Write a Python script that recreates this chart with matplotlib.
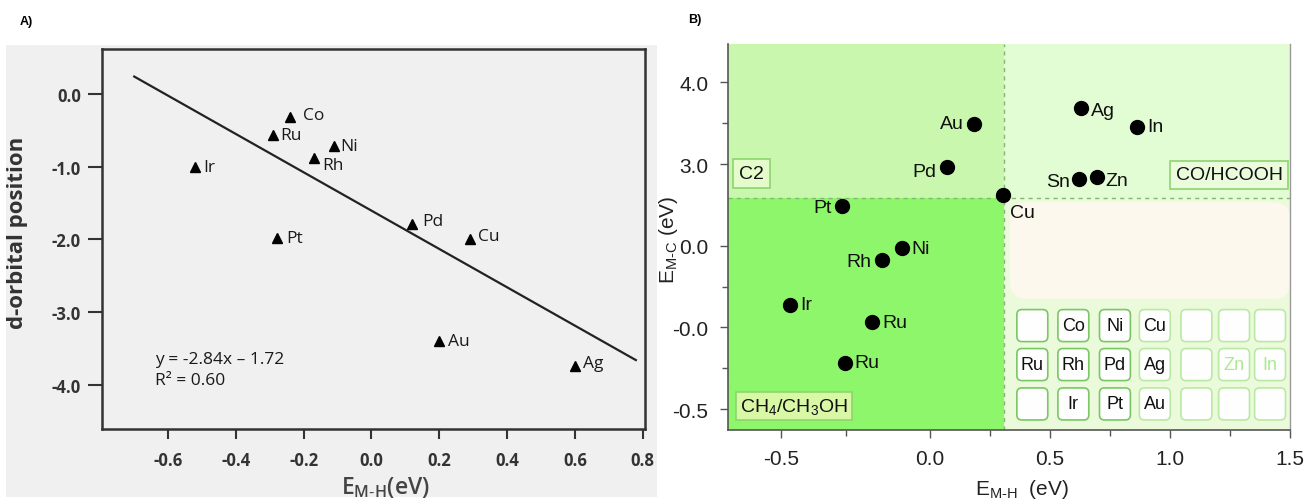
import matplotlib
matplotlib.use('Agg')
import matplotlib.pyplot as plt
from matplotlib.patches import FancyBboxPatch, Rectangle
from matplotlib.mathtext import MathTextParser

plt.rcParams['mathtext.fontset'] = 'custom'
plt.rcParams['mathtext.rm'] = 'Liberation Sans'
plt.rcParams['mathtext.it'] = 'Liberation Sans'
plt.rcParams['mathtext.bf'] = 'Liberation Sans:bold'

# ---------------- Panel A data ----------------
a_elements = ['Co', 'Ru', 'Ni', 'Rh', 'Ir', 'Pd', 'Pt', 'Cu', 'Au', 'Ag']
a_emh = [-0.24, -0.29, -0.11, -0.17, -0.52, 0.12, -0.28, 0.29, 0.20, 0.60]
a_dorb = [-0.31, -0.56, -0.71, -0.88, -1.00, -1.79, -1.98, -1.99, -3.40, -3.74]
a_fit_x = [-0.70, 0.78]
a_fit_y = [0.24, -3.66]
a_xticks = [-0.6, -0.4, -0.2, 0.0, 0.2, 0.4, 0.6, 0.8]
a_yticks = [0.0, -1.0, -2.0, -3.0, -4.0]
a_equation = 'y = -2.84x \u2013 1.72'
a_r2 = 'R\u00b2 = 0.60'

# ---------------- Panel B data ----------------
b_elements = ['Au', 'Pd', 'Ag', 'In', 'Sn', 'Zn', 'Cu', 'Pt', 'Ni', 'Rh', 'Ir', 'Ru', 'Ru']
b_emh = [0.183, 0.070, 0.628, 0.863, 0.620, 0.695, 0.305, -0.368, -0.117, -0.200, -0.583, -0.240, -0.355]
b_emc = [3.490, 2.960, 3.685, 3.457, 2.816, 2.837, 2.621, 2.490, 1.967, 1.825, 1.277, 1.062, 0.568]
b_xticks = [-0.62, 0.0, 0.5, 1.0, 1.5]
b_xticklabels = ['-0.5', '0.0', '0.5', '1.0', '1.5']
b_xminor = [-0.35, 0.25, 0.75, 1.25]
b_yticks = [4.0, 3.0, 2.0, 1.0, 0.0]
b_yticklabels = ['4.0', '3.0', '0.0', '-0.0', '-0.5']
b_yminor = [3.5, 1.5, 0.5]
b_x_split = 0.308
b_y_split = 2.584
ptable = [['', 'Co', 'Ni', 'Cu', '', '', ''],
          ['Ru', 'Rh', 'Pd', 'Ag', '', 'Zn', 'In'],
          ['', 'Ir', 'Pt', 'Au', '', '', '']]

# label offsets (points) and alignment -- layout only
a_offsets = {'Co': (9, 1), 'Ru': (5, 0), 'Ni': (4, 0), 'Rh': (6, -5), 'Ir': (6, 0),
             'Pd': (7, 2), 'Pt': (7, 0), 'Cu': (6, 2), 'Au': (6, 0), 'Ag': (6, 2)}
b_offsets = [(-7, 0, 'right'), (-7.5, -3, 'right'), (7, -2, 'left'), (7.5, 0, 'left'),
             (-6.5, -1.5, 'right'), (6, -2, 'left'), (5, -12.5, 'left'), (-7.5, -1, 'right'),
             (6.5, 0, 'left'), (-7.5, -1, 'right'), (7.5, 0, 'left'), (7, 0, 'left'), (6.5, 0, 'left')]


def safe_math(s, fallback):
    try:
        MathTextParser('path').parse(s)
        return s
    except Exception:
        return fallback


W, H = 1306, 502
fig = plt.figure(figsize=(W / 100, H / 100), dpi=100)
fig.patch.set_facecolor('white')
fig.add_artist(Rectangle((6 / W, 4 / H), 651 / W, 452 / H, transform=fig.transFigure,
                         facecolor='#f0f0f0', edgecolor='none', zorder=0))

# ======================= Panel A =======================
afont = 'Open Sans'
dark = '#333333'
axA = fig.add_axes([101.7 / W, 1 - 430 / H, (645 - 101.7) / W, (430 - 50) / H])
axA.set_facecolor('#f0f0f0')
axA.set_xlim(-0.796, 0.807)
axA.set_ylim(-4.608, 0.619)
for sp in axA.spines.values():
    sp.set_linewidth(1.8)
    sp.set_color(dark)
axA.set_xticks(a_xticks)
axA.set_xticklabels(['%.1f' % v for v in a_xticks])
axA.set_yticks(a_yticks)
axA.set_yticklabels(['%.1f' % v for v in a_yticks])
axA.tick_params(axis='x', direction='out', length=7, width=1.5, color=dark, pad=9)
axA.tick_params(axis='y', direction='out', length=10, width=1.5, color=dark, pad=5)
for lab in axA.get_xticklabels() + axA.get_yticklabels():
    lab.set_fontfamily(afont)
    lab.set_fontweight('bold')
    lab.set_fontsize(12)
    lab.set_color(dark)

axA.plot(a_fit_x, a_fit_y, color='#222222', lw=1.6, zorder=2)
axA.plot(a_emh, a_dorb, linestyle='none', marker='^', markersize=6.5, color='black', zorder=3)
for name, x, y in zip(a_elements, a_emh, a_dorb):
    dx, dy = a_offsets[name]
    axA.annotate(name, (x, y), xytext=(dx, dy), textcoords='offset points',
                 ha='left', va='center', fontsize=12.5, family=afont, color='#1a1a1a',
                 fontweight='medium')

axA.text(-0.64, -3.645, a_equation, ha='left', va='center', fontsize=12.5,
         family=afont, color='#1a1a1a', fontweight='medium')
axA.text(-0.64, -3.934, a_r2, ha='left', va='center', fontsize=12.5,
         family=afont, color='#1a1a1a', fontweight='medium')

axA.set_ylabel('d-orbital position', family=afont, fontsize=16, fontweight='bold',
               color=dark, labelpad=8)
axA.yaxis.set_label_coords(-0.136, 0.52)
xlab_a = safe_math(r'E$_{\mathregular{M\text{-}H}}$(eV)', r'E$_{\mathregular{M-H}}$(eV)')
fig.text(385 / W, 1 - 488 / H, xlab_a, ha='center', va='center', family=afont,
         fontsize=16.5, color='#444444', fontweight='semibold')
fig.text(20 / W, 1 - 22 / H, 'A)', ha='left', va='center', fontsize=9,
         fontweight='bold', family='Liberation Sans')

# ======================= Panel B =======================
bfont = 'Liberation Sans'
axB = fig.add_axes([728 / W, 1 - 431 / H, (1290 - 728) / W, (431 - 45) / H])
x0, x1 = -0.842, 1.5
y0, y1 = -0.256, 4.469
axB.set_xlim(x0, x1)
axB.set_ylim(y0, y1)

# region backgrounds
axB.add_patch(Rectangle((x0, b_y_split), b_x_split - x0, y1 - b_y_split,
                        facecolor='#c9f7ad', edgecolor='none', zorder=0))
axB.add_patch(Rectangle((b_x_split, b_y_split), x1 - b_x_split, y1 - b_y_split,
                        facecolor='#e2fcd4', edgecolor='none', zorder=0))
axB.add_patch(Rectangle((x0, y0), b_x_split - x0, b_y_split - y0,
                        facecolor='#8ef66a', edgecolor='none', zorder=0))
axB.add_patch(Rectangle((b_x_split, y0), x1 - b_x_split, b_y_split - y0,
                        facecolor='#ecfadc', edgecolor='none', zorder=0))
# cream rounded area
asp = (562 / 386)
axB.add_patch(FancyBboxPatch((0.502, 0.34), 0.498, 0.25,
                             boxstyle='round,pad=0,rounding_size=0.03',
                             mutation_aspect=asp, transform=axB.transAxes,
                             facecolor='#fdf8ee', edgecolor='none', zorder=0.5))

axB.axvline(b_x_split, color='#84b870', lw=1.0, dashes=(3, 3), zorder=1)
axB.axhline(b_y_split, color='#84b870', lw=1.0, dashes=(3, 3), zorder=1)

# periodic-table inset
col_x = [0.514, 0.587, 0.661, 0.732, 0.806, 0.873, 0.937]
row_y = [0.229, 0.128, 0.026]
bw, bh = 0.055, 0.083
for r, row in enumerate(ptable):
    for c, name in enumerate(row):
        ec = '#74c45e' if c < 3 else '#b6e8a0'
        axB.add_patch(FancyBboxPatch((col_x[c], row_y[r]), bw, bh,
                                     boxstyle='round,pad=0,rounding_size=0.009',
                                     mutation_aspect=asp, transform=axB.transAxes,
                                     facecolor='white', alpha=0.95, edgecolor=ec,
                                     lw=1.2, zorder=1.5))
        if name:
            tc = '#aaeb90' if name in ('Zn', 'In') else '#111111'
            axB.text(col_x[c] + bw / 2, row_y[r] + bh / 2, name, transform=axB.transAxes,
                     ha='center', va='center', fontsize=13, family=bfont, color=tc,
                     zorder=2)

# region labels
axB.text(0.042, 0.665, 'C2', transform=axB.transAxes, ha='center', va='center',
         fontsize=14, family=bfont, color='#111111', zorder=3,
         bbox=dict(boxstyle='square,pad=0.3', facecolor='#e4fbcc', edgecolor='#8fd46f', lw=1.2))
axB.text(0.892, 0.661, 'CO/HCOOH', transform=axB.transAxes, ha='center', va='center',
         fontsize=14, family=bfont, color='#111111', zorder=3,
         bbox=dict(boxstyle='square,pad=0.28', facecolor='#eafcdc', edgecolor='#8fd46f', lw=1.2))
axB.text(0.117, 0.063, r'CH$_4$/CH$_3$OH', transform=axB.transAxes, ha='center', va='center',
         fontsize=14, family=bfont, color='#111111', zorder=3,
         bbox=dict(boxstyle='square,pad=0.2', facecolor='#d9f8a6', edgecolor='#8fd46f', lw=1.2))

# points
axB.plot(b_emh, b_emc, linestyle='none', marker='o', markersize=10, color='black', zorder=4)
for name, x, y, (dx, dy, ha) in zip(b_elements, b_emh, b_emc, b_offsets):
    axB.annotate(name, (x, y), xytext=(dx, dy), textcoords='offset points',
                 ha=ha, va='center', fontsize=14, family=bfont, color='#111111', zorder=5)

# axes styling
axB.spines['top'].set_visible(False)
axB.spines['right'].set_color('#999999')
axB.spines['right'].set_linewidth(1.0)
for s in ('left', 'bottom'):
    axB.spines[s].set_color('#555555')
    axB.spines[s].set_linewidth(1.2)
axB.set_xticks(b_xticks)
axB.set_xticklabels(b_xticklabels)
axB.set_xticks(b_xminor, minor=True)
axB.set_yticks(b_yticks)
axB.set_yticklabels(b_yticklabels)
axB.set_yticks(b_yminor, minor=True)
axB.tick_params(which='major', direction='out', length=6, width=1.0, color='#555555',
                labelsize=15, labelcolor='#222222', pad=8)
axB.tick_params(which='minor', direction='out', length=4, width=1.0, color='#555555')
for lab in axB.get_xticklabels() + axB.get_yticklabels():
    lab.set_fontfamily(bfont)

xlab_b = safe_math(r'E$_{\mathregular{M\text{-}H}}$  (eV)', r'E$_{\mathregular{M-H}}$  (eV)')
fig.text(1022 / W, 1 - 490 / H, xlab_b, ha='center', va='center', family=bfont,
         fontsize=15, color='#222222')
ylab_b = safe_math(r'E$_{\mathregular{M\text{-}C}}$ (eV)', r'E$_{\mathregular{M-C}}$ (eV)')
fig.text(669 / W, 1 - 240 / H, ylab_b, ha='center', va='center', rotation=90,
         family=bfont, fontsize=15, color='#222222')
fig.text(688 / W, 1 - 20 / H, 'B)', ha='left', va='center', fontsize=9,
         fontweight='bold', family=bfont)

fig.savefig('out.png', dpi=100)
